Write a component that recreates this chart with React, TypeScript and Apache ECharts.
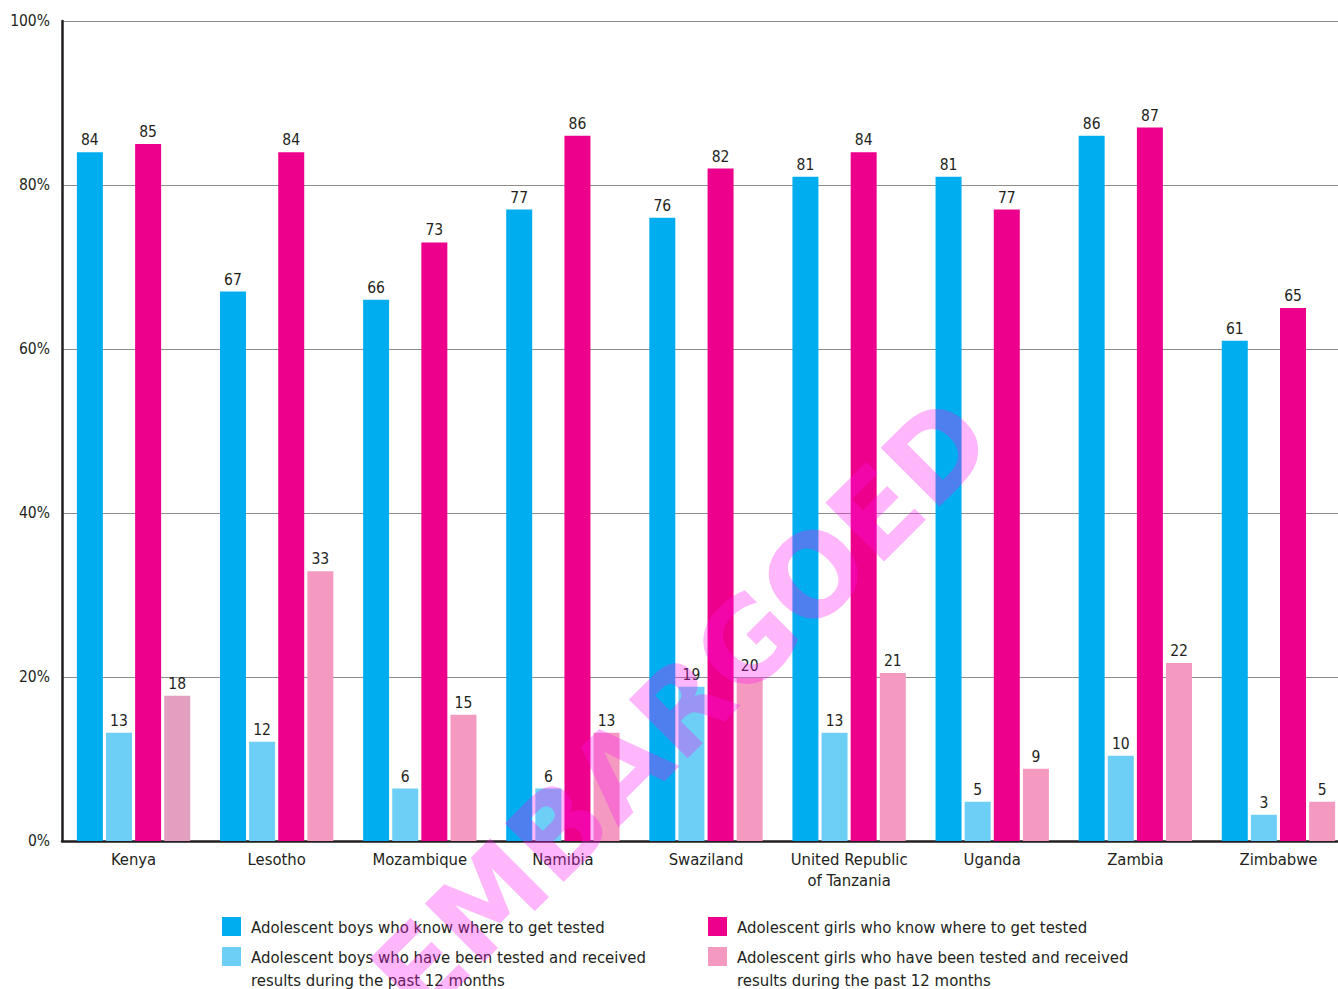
import React, { useEffect, useRef } from "react";
import * as echarts from "echarts";

const countries = ["Kenya", "Lesotho", "Mozambique", "Namibia", "Swaziland", "United Republic\nof Tanzania", "Uganda", "Zambia", "Zimbabwe"];
const boysKnow = [84, 67, 66, 77, 76, 81, 81, 86, 61];
const boysTested = [13.2, 12.1, 6.4, 6.4, 18.8, 13.2, 4.8, 10.4, 3.2];
const girlsKnow = [85, 84, 73, 86, 82, 84, 77, 87, 65];
const girlsTested = [17.7, 32.9, 15.4, 13.2, 19.9, 20.5, 8.8, 21.7, 4.8];
const yTicks = [0, 20, 40, 60, 80, 100];

const seriesNames = [
  "Adolescent boys who know where to get tested",
  "Adolescent boys who have been tested and received\nresults during the past 12 months",
  "Adolescent girls who know where to get tested",
  "Adolescent girls who have been tested and received\nresults during the past 12 months",
];
const colors = ["#00aeef", "#6dcff6", "#ec008c", "#f49ac1"];

const FONT = "'Liberation Sans Narrow', 'DejaVu Sans Condensed', 'Roboto', sans-serif";
const TXT = "#231f20";

export default function App() {
  const ref = useRef<HTMLDivElement>(null);
  useEffect(() => {
    if (!ref.current) return;
    const chart = echarts.init(ref.current, undefined, { renderer: "svg" });
    const dataSets = [boysKnow, boysTested, girlsKnow, girlsTested];
    const series = dataSets.map((d, i) => ({
      name: seriesNames[i],
      type: "bar",
      barWidth: 26,
      barGap: "12%",
      data: d.map((v, j) =>
        i === 3 && j === 0 ? { value: v, itemStyle: { color: "#e29fc0" } } : v
      ),
      itemStyle: { color: colors[i] },
      label: {
        show: true,
        position: "top",
        distance: 4,
        fontFamily: FONT,
        fontSize: 15.5,
        color: TXT,
        formatter: (p: any) => String(Math.round(p.value)),
      },
    }));
    const legendItems: any[] = [];
    const legendPos = [
      [222, 917],
      [222, 947],
      [708, 917],
      [708, 947],
    ];
    seriesNames.forEach((n, i) => {
      const [x, y] = legendPos[i];
      legendItems.push({
        type: "rect",
        shape: { x, y, width: 19, height: 19 },
        style: { fill: colors[i] },
      });
      legendItems.push({
        type: "text",
        x: x + 29,
        y: y - 1,
        style: {
          text: n,
          fontFamily: FONT,
          fontSize: 16.6,
          lineHeight: 23,
          fill: TXT,
          textVerticalAlign: "top",
        },
      });
    });
    chart.setOption({
      animation: false,
      backgroundColor: "#ffffff",
      grid: { left: 62, right: 0, top: 21, bottom: 148, containLabel: false },
      xAxis: {
        type: "category",
        data: countries,
        axisLine: { show: true, lineStyle: { color: TXT, width: 2.5 } },
        axisTick: { show: false },
        axisLabel: {
          fontFamily: FONT,
          fontSize: 16.5,
          color: TXT,
          margin: 8,
          lineHeight: 21,
          interval: 0,
        },
      },
      yAxis: {
        type: "value",
        min: yTicks[0],
        max: yTicks[yTicks.length - 1],
        interval: 20,
        axisLine: { show: true, lineStyle: { color: TXT, width: 2.5 } },
        axisTick: { show: false },
        splitLine: { lineStyle: { color: "#8c8c8c", width: 1 } },
        axisLabel: {
          fontFamily: FONT,
          fontSize: 15.5,
          color: TXT,
          margin: 12,
          formatter: "{value}%",
        },
      },
      series,
      graphic: [
        ...legendItems,
        {
          type: "text",
          x: 682,
          y: 708,
          rotation: Math.PI / 4,
          z: 100,
          style: {
            text: "EMBARGOED",
            fontFamily: "'DejaVu Sans', sans-serif",
            fontWeight: "bold",
            fontSize: 114,
            fill: "rgba(255, 20, 240, 0.31)",
            textAlign: "center",
            textVerticalAlign: "middle",
          },
        },
      ],
    });
    return () => chart.dispose();
  }, []);
  return (
    <div
      style={{ position: "fixed", left: 0, top: 0, width: 1338, height: 989, overflow: "hidden", background: "#fff" }}
    >
      <div ref={ref} style={{ width: 1350, height: 989 }} />
    </div>
  );
}
